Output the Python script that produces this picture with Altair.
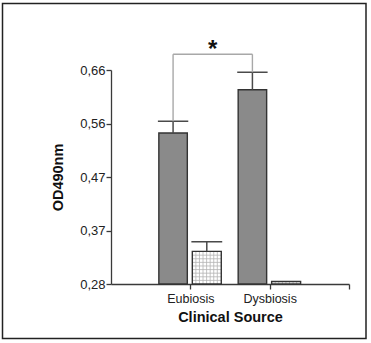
import altair as alt
import pandas as pd
import numpy as np

# ---- data ----
groups = ["Eubiosis", "Dysbiosis"]
group_pos = [1, 2]
solid_means = [0.548, 0.625]
solid_upper = [0.569, 0.656]
hatched_means = [0.338, 0.2845]
hatched_upper = [0.355, None]
y_base = 0.28
y_ticks = [0.28, 0.375, 0.47, 0.565, 0.66]
y_tick_labels = ["0,28", "0,37", "0,47", "0,56", "0,66"]
x_ticks = [1, 2, 3]
x_tick_labels = ["Eubiosis", "Dysbiosis", ""]
bracket_top = 0.688
star_text = "*"

# ---- layout / style ----
SOLID_OFF = (-0.397, -0.038)
HATCH_OFF = (0.025, 0.39)
CAP_EXTRA = 0.012
GRID_DX = 0.045
GRID_DY = 0.0064
FONT = "Liberation Sans"

rows = []
for g, p, m, u in zip(groups, group_pos, solid_means, solid_upper):
    rows.append(dict(group=g, kind="solid", mean=m, upper=u,
                     x0=p + SOLID_OFF[0], x1=p + SOLID_OFF[1]))
for g, p, m, u in zip(groups, group_pos, hatched_means, hatched_upper):
    rows.append(dict(group=g, kind="hatched", mean=m, upper=u,
                     x0=p + HATCH_OFF[0], x1=p + HATCH_OFF[1]))
bars = pd.DataFrame(rows)
bars["xc"] = (bars.x0 + bars.x1) / 2
bars["base"] = y_base
bars["c0"] = bars.x0 - CAP_EXTRA
bars["c1"] = bars.x1 + CAP_EXTRA
errs = bars.dropna(subset=["upper"])

# grid lines inside hatched bars
vl, hl = [], []
for _, r in bars[bars.kind == "hatched"].iterrows():
    for xv in np.arange(r.x0 + GRID_DX, r.x1 - GRID_DX * 0.3, GRID_DX):
        vl.append(dict(x=xv, y=y_base, y2=r["mean"]))
    for yv in np.arange(y_base + GRID_DY, r["mean"] - GRID_DY * 0.3, GRID_DY):
        hl.append(dict(x=r.x0, x2=r.x1, y=yv))
vlines = pd.DataFrame(vl)
hlines = pd.DataFrame(hl)

solid = bars[bars.kind == "solid"].reset_index(drop=True)
xa, xb = solid.xc[0], solid.xc[1]
bracket = pd.DataFrame([
    dict(x=xa, x2=xa, y=solid.upper[0], y2=bracket_top),
    dict(x=xa, x2=xb, y=bracket_top, y2=bracket_top),
    dict(x=xb, x2=xb, y=solid.upper[1], y2=bracket_top),
])
star = pd.DataFrame([dict(x=(xa + xb) / 2, y=bracket_top, t=star_text)])


def label_expr(vals, labels):
    s = "''"
    for v, l in reversed(list(zip(vals, labels))):
        s = f"abs(datum.value - {v}) < 1e-6 ? '{l}' : ({s})"
    return s


xscale = alt.Scale(domain=[0, 3], nice=False, zero=False)
yscale = alt.Scale(domain=[y_ticks[0], y_ticks[-1]], nice=False, zero=False)

xaxis = alt.Axis(
    values=x_ticks, labelExpr=label_expr(x_ticks, x_tick_labels),
    title="Clinical Source", labelFontSize=12.5, labelPadding=3,
    titlePadding=6)
yaxis = alt.Axis(
    values=y_ticks, labelExpr=label_expr(y_ticks, y_tick_labels),
    title="OD490nm", labelFontSize=13, labelPadding=1,
    titlePadding=14)


def X(f):
    return alt.X(f, scale=xscale, axis=xaxis, title="Clinical Source")


def Y(f):
    return alt.Y(f, scale=yscale, axis=yaxis, title="OD490nm")


solid_bars = alt.Chart(bars[bars.kind == "solid"]).mark_rect(
    fill="#8a8a8a", stroke="#333333", strokeWidth=1.4
).encode(x=X("x0:Q"), x2="x1:Q", y=Y("mean:Q"), y2="base:Q")

hatch_bg = alt.Chart(bars[bars.kind == "hatched"]).mark_rect(
    fill="#ffffff"
).encode(x=X("x0:Q"), x2="x1:Q", y=Y("mean:Q"), y2="base:Q")

vgrid = alt.Chart(vlines).mark_rule(color="#b4b4b4", strokeWidth=0.8).encode(
    x=X("x:Q"), y=Y("y:Q"), y2="y2:Q")
hgrid = alt.Chart(hlines).mark_rule(color="#b4b4b4", strokeWidth=0.8).encode(
    x=X("x:Q"), x2="x2:Q", y=Y("y:Q"))

hatch_outline = alt.Chart(bars[bars.kind == "hatched"]).mark_rect(
    fill="transparent", stroke="#333333", strokeWidth=1.4
).encode(x=X("x0:Q"), x2="x1:Q", y=Y("mean:Q"), y2="base:Q")

stems = alt.Chart(errs).mark_rule(color="#4a4a4a", strokeWidth=1.5).encode(
    x=X("xc:Q"), y=Y("mean:Q"), y2="upper:Q")
caps = alt.Chart(errs).mark_rule(color="#4a4a4a", strokeWidth=1.5).encode(
    x=X("c0:Q"), x2="c1:Q", y=Y("upper:Q"))

brk = alt.Chart(bracket).mark_rule(color="#a8a8a8", strokeWidth=1.4).encode(
    x=X("x:Q"), x2="x2:Q", y=Y("y:Q"), y2="y2:Q")

star_mark = alt.Chart(star).mark_text(
    font=FONT, fontSize=24, fontWeight="bold", color="#111111",
    baseline="alphabetic", align="center", dy=3
).encode(x=X("x:Q"), y=Y("y:Q"), text="t:N")

frame = alt.Chart(star).mark_rect(
    fill="transparent", stroke="#222222", strokeWidth=1.5
).encode(
    x=alt.value(-108.5), x2=alt.value(255), y=alt.value(-66.5), y2=alt.value(268.5)
)

chart = alt.layer(
    solid_bars, hatch_bg, vgrid, hgrid, hatch_outline, stems, caps, brk,
    star_mark, frame
).properties(
    width=238, height=214,
    autosize=alt.AutoSizeParams(type="none"),
    padding={"left": 111, "top": 70, "right": 22, "bottom": 59},
    background="white",
).configure_view(stroke=None).configure_axis(
    grid=False, domainColor="#3a3a3a", domainWidth=1.3, tickColor="#3a3a3a",
    tickWidth=1.3, tickSize=5, labelColor="#222222", labelFont=FONT,
    titleFont=FONT, titleFontWeight="bold", titleFontSize=14.5,
    titleColor="#111111",
).configure_axisX(labelAngle=0)

chart.save("out.html", embed_options={"renderer": "svg", "actions": False})
